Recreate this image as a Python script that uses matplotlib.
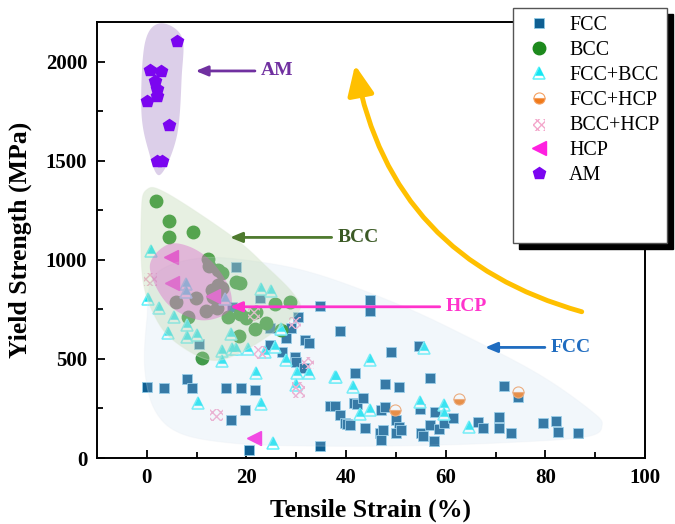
import numpy as np
import matplotlib
matplotlib.use('Agg')
import matplotlib.pyplot as plt
from matplotlib.patches import Polygon, FancyArrowPatch
from matplotlib.lines import Line2D
from matplotlib.path import Path

plt.rcParams['font.family'] = ['Liberation Serif', 'DejaVu Serif']

# ---- datos (deformacion %, limite elastico MPa) ----
fcc_x = [0.1, 3.4, 8.0, 9.0, 15.9, 18.9, 21.7, 19.7, 16.8, 20.5, 10.5, 34.7, 38.8, 30.3,
         28.9, 24.8, 24.7, 27.9, 27.2, 29.7, 29.9, 31.7, 32.6, 31.5, 36.7, 37.8, 38.8, 39.8,
         34.7, 17.9, 22.8, 17.0, 44.8, 44.8, 49.0, 54.7, 56.8, 41.8, 47.8, 50.7, 71.7, 74.6,
         40.1, 40.8, 41.6, 42.2, 43.3, 43.8, 46.8, 47.1, 47.5, 47.1, 47.8, 50.1, 50.7, 50.1,
         51.1, 54.8, 55.0, 55.4, 56.8, 57.8, 57.7, 58.7, 59.6, 61.4, 66.5, 67.5, 70.7, 70.7,
         73.1, 79.6, 82.1, 82.6, 86.6]
fcc_y = [357, 352, 397, 352, 355, 352, 343, 242, 192, 40, 574, 768, 641, 713,
         654, 654, 570, 604, 536, 511, 486, 595, 582, 452, 262, 262, 217, 175,
         62, 962, 806, 763, 797, 743, 533, 565, 402, 427, 373, 357, 363, 306,
         172, 167, 279, 272, 301, 153, 128, 91, 141, 242, 259, 192, 158, 125,
         141, 246, 128, 111, 167, 230, 86, 146, 175, 200, 180, 153, 208, 153,
         128, 178, 188, 133, 125]

bcc_x = [1.9, 4.4, 4.5, 9.2, 12.2, 12.5, 14.3, 15.0, 18.0, 18.7, 13.0, 14.3, 15.0, 13.9,
         13.3, 9.8, 5.8, 11.9, 14.1, 16.2, 8.3, 18.7, 19.9, 22.0, 25.8, 28.7, 23.9, 21.8,
         18.5, 27.0, 11.0]
bcc_y = [1298, 1197, 1117, 1142, 1002, 969, 948, 932, 890, 881, 848, 873, 856, 822,
         814, 806, 786, 742, 755, 713, 713, 725, 705, 738, 777, 786, 683, 651,
         617, 646, 506]

fb_x = [0.9, 0.3, 2.5, 5.4, 7.8, 7.8, 8.1, 4.3, 8.0, 10.0, 15.7, 22.9, 25.0, 16.9, 15.0,
        17.0, 17.9, 20.3, 15.0, 23.7, 25.8, 26.9, 27.9, 21.9, 30.1, 32.6, 37.8, 29.9,
        10.3, 22.9, 25.4, 55.6, 44.8, 38.0, 41.4, 42.8, 44.8, 54.8, 59.6, 59.6, 64.7]
fb_y = [1044, 802, 755, 710, 878, 839, 671, 632, 609, 620, 804, 851, 842, 626, 541,
        550, 548, 548, 489, 536, 562, 649, 494, 427, 427, 430, 410, 368,
        276, 271, 74, 553, 494, 407, 357, 222, 242, 284, 267, 222, 158]

fh_x = [49.8, 62.7, 74.6]
fh_y = [242, 296, 335]

bh_x = [0.7, 21.5, 22.7, 29.7, 32.4, 30.4, 30.6, 14.0]
bh_y = [900, 725, 533, 680, 478, 352, 333, 217]

hcp_x = [4.8, 5.0, 13.3, 21.5]
hcp_y = [1016, 885, 817, 102]

am_x = [6.0, 0.7, 2.8, 1.6, 2.1, 2.1, 0.1, 4.5, 2.1, 3.0]
am_y = [2105, 1960, 1953, 1900, 1862, 1828, 1803, 1680, 1500, 1500]

# contornos de las zonas sombreadas
zona_am = [(2.6, 2193), (7.0, 2126), (7.0, 1924), (6.0, 1621), (2.6, 1428),
           (0.3, 1554), (-1.1, 1756), (-0.4, 2092)]
zona_fcc = [(1.6, 923), (10.6, 1009), (22.7, 989), (34.7, 923), (50.8, 772), (64.9, 605),
            (78.9, 419), (89.0, 242), (91.4, 166), (88.0, 106), (70.9, 76), (50.8, 61),
            (30.7, 61), (16.7, 76), (6.6, 126), (1.6, 242), (-0.4, 444), (0.0, 696)]
zona_bcc = [(-0.1, 1352), (4.0, 1336), (17.3, 1115), (24.1, 964), (29.3, 833), (30.7, 747),
            (26.1, 646), (18.7, 530), (12.7, 494), (6.0, 580), (2.0, 696), (-0.8, 898),
            (-1.1, 1236)]
zona_hcp = [(4.0, 1075), (8.6, 1066), (13.3, 984), (16.7, 848), (16.3, 737), (10.6, 696),
            (4.0, 782), (0.6, 965)]


def suavizar(pts, n=30):
    # curva cerrada Catmull-Rom
    p = np.array(pts, float)
    m = len(p)
    t = np.linspace(0, 1, n, endpoint=False)[:, None]
    out = []
    for i in range(m):
        p0, p1, p2, p3 = p[i - 1], p[i], p[(i + 1) % m], p[(i + 2) % m]
        out.append(0.5 * (2 * p1 + (-p0 + p2) * t + (2 * p0 - 5 * p1 + 4 * p2 - p3) * t ** 2
                          + (-p0 + 3 * p1 - 3 * p2 + p3) * t ** 3))
    return np.vstack(out)


# triangulo relleno arriba (estilo "medio lleno")
tri_sup = Path([(0, 1), (-0.68, -0.36), (0.68, -0.36), (0, 1)],
               [Path.MOVETO, Path.LINETO, Path.LINETO, Path.CLOSEPOLY])

fig = plt.figure(figsize=(6.75, 5.24), dpi=100)
ax = fig.add_axes([97 / 675, 66 / 524, 548 / 675, 436 / 524])

# zona AM por debajo de los puntos
ax.add_patch(Polygon(suavizar(zona_am), closed=True, facecolor='#dccfe9', edgecolor='none', zorder=1))

l_fcc, = ax.plot(fcc_x, fcc_y, 's', ms=7, color='#0f5f92', mec='#8fcbe6', mew=0.6, zorder=3)
l_bcc, = ax.plot(bcc_x, bcc_y, 'o', ms=9, color='#1d8a1d', mec='#1d8a1d', zorder=3)
l_fb1, = ax.plot(fb_x, fb_y, '^', ms=9, mfc='white', mec='#5ff2fa', mew=1.1, zorder=3)
l_fb2, = ax.plot(fb_x, fb_y, marker=tri_sup, ls='none', ms=9, mfc='#14e6f2', mec='none', zorder=3)
l_fh, = ax.plot(fh_x, fh_y, 'o', ms=8, color='#f07a1a', mec='#f5a060', mew=0.8,
                fillstyle='bottom', markerfacecoloralt='white', zorder=3)
l_bh = ax.scatter(bh_x, bh_y, marker='s', s=80, facecolors='none', edgecolors='#f4a8cc',
                  linewidths=0, hatch='xxxx', zorder=3)
l_hcp, = ax.plot(hcp_x, hcp_y, '<', ms=10, color='#ff20e0', zorder=3)
l_am, = ax.plot(am_x, am_y, 'p', ms=9, color='#7b05f0', zorder=3)

# zonas translucidas encima
ax.add_patch(Polygon(suavizar(zona_fcc), closed=True, facecolor='#c8dcf0', edgecolor='#e4eaf0',
                     lw=0.8, alpha=0.22, zorder=4))
ax.add_patch(Polygon(suavizar(zona_bcc), closed=True, facecolor='#bcd6ac', edgecolor='#dde8d6',
                     lw=0.8, alpha=0.35, zorder=4))
ax.add_patch(Polygon(suavizar(zona_hcp), closed=True, facecolor='#da62c9', edgecolor='none',
                     alpha=0.4, zorder=4))

# flechas y etiquetas
flechas = [('AM', (21.7, 1953), (9.8, 1953), '#7030a0', '#7030a0'),
           ('BCC', (37.1, 1113), (16.7, 1113), '#4e7a2e', '#3b5a25'),
           ('HCP', (58.8, 763), (16.7, 763), '#ff33cc', '#ff33cc'),
           ('FCC', (79.9, 558), (67.9, 558), '#1f6cc0', '#1f6cc0')]
for txt, cola, punta, c_flecha, c_txt in flechas:
    ax.annotate('', xy=punta, xytext=cola, zorder=6,
                arrowprops=dict(arrowstyle='-|>,head_length=0.6,head_width=0.25', color=c_flecha,
                                lw=2, shrinkA=0, shrinkB=0, mutation_scale=12))
    ax.text(cola[0] + 1.2, cola[1], txt, color=c_txt, fontsize=14, fontweight='bold',
            va='center', ha='left', zorder=6)

curva = FancyArrowPatch((87.3, 738), (41.8, 1983), connectionstyle='arc3,rad=-0.31',
                        arrowstyle='-|>,head_length=0.9,head_width=0.4', mutation_scale=20,
                        lw=3.5, color='#ffc000', shrinkA=0, shrinkB=0, zorder=6)
ax.add_patch(curva)

ax.set_xlim(-10, 100)
ax.set_ylim(0, 2200)
ax.set_xticks([0, 20, 40, 60, 80, 100])
ax.set_xticks([10, 30, 50, 70, 90], minor=True)
ax.set_yticks([0, 500, 1000, 1500, 2000])
ax.set_yticks([250, 750, 1250, 1750], minor=True)
ax.tick_params(which='both', direction='in', top=False, right=False, width=1.3)
ax.tick_params(which='major', length=6, labelsize=15, pad=7)
ax.tick_params(which='minor', length=4)
for lbl in ax.get_xticklabels() + ax.get_yticklabels():
    lbl.set_fontweight('bold')
for s in ax.spines.values():
    s.set_linewidth(1.4)

ax.set_xlabel('Tensile Strain (%)', fontsize=18.5, fontweight='bold', labelpad=8)
ax.set_ylabel('Yield Strength (MPa)', fontsize=18.5, fontweight='bold', labelpad=10)

blanco = Line2D([], [], linestyle='none', marker='')
leg = ax.legend([l_fcc, l_bcc, (l_fb1, l_fb2), l_fh, l_bh, l_hcp, l_am, blanco, blanco],
                ['FCC', 'BCC', 'FCC+BCC', 'FCC+HCP', 'BCC+HCP', 'HCP', 'AM', ' ', ' '],
                loc='upper left', bbox_to_anchor=(513 / 675, 1 - 8 / 524),
                bbox_transform=fig.transFigure, borderaxespad=0, fancybox=False,
                framealpha=1, edgecolor='#555555', fontsize=14.4, handlelength=1.8,
                handletextpad=0.6, labelspacing=0.3, borderpad=0.4,
                shadow={'ox': 4, 'oy': -4, 'facecolor': 'k', 'edgecolor': 'k', 'alpha': 1})
leg.set_zorder(10)

fig.savefig('out.png', dpi=100)
